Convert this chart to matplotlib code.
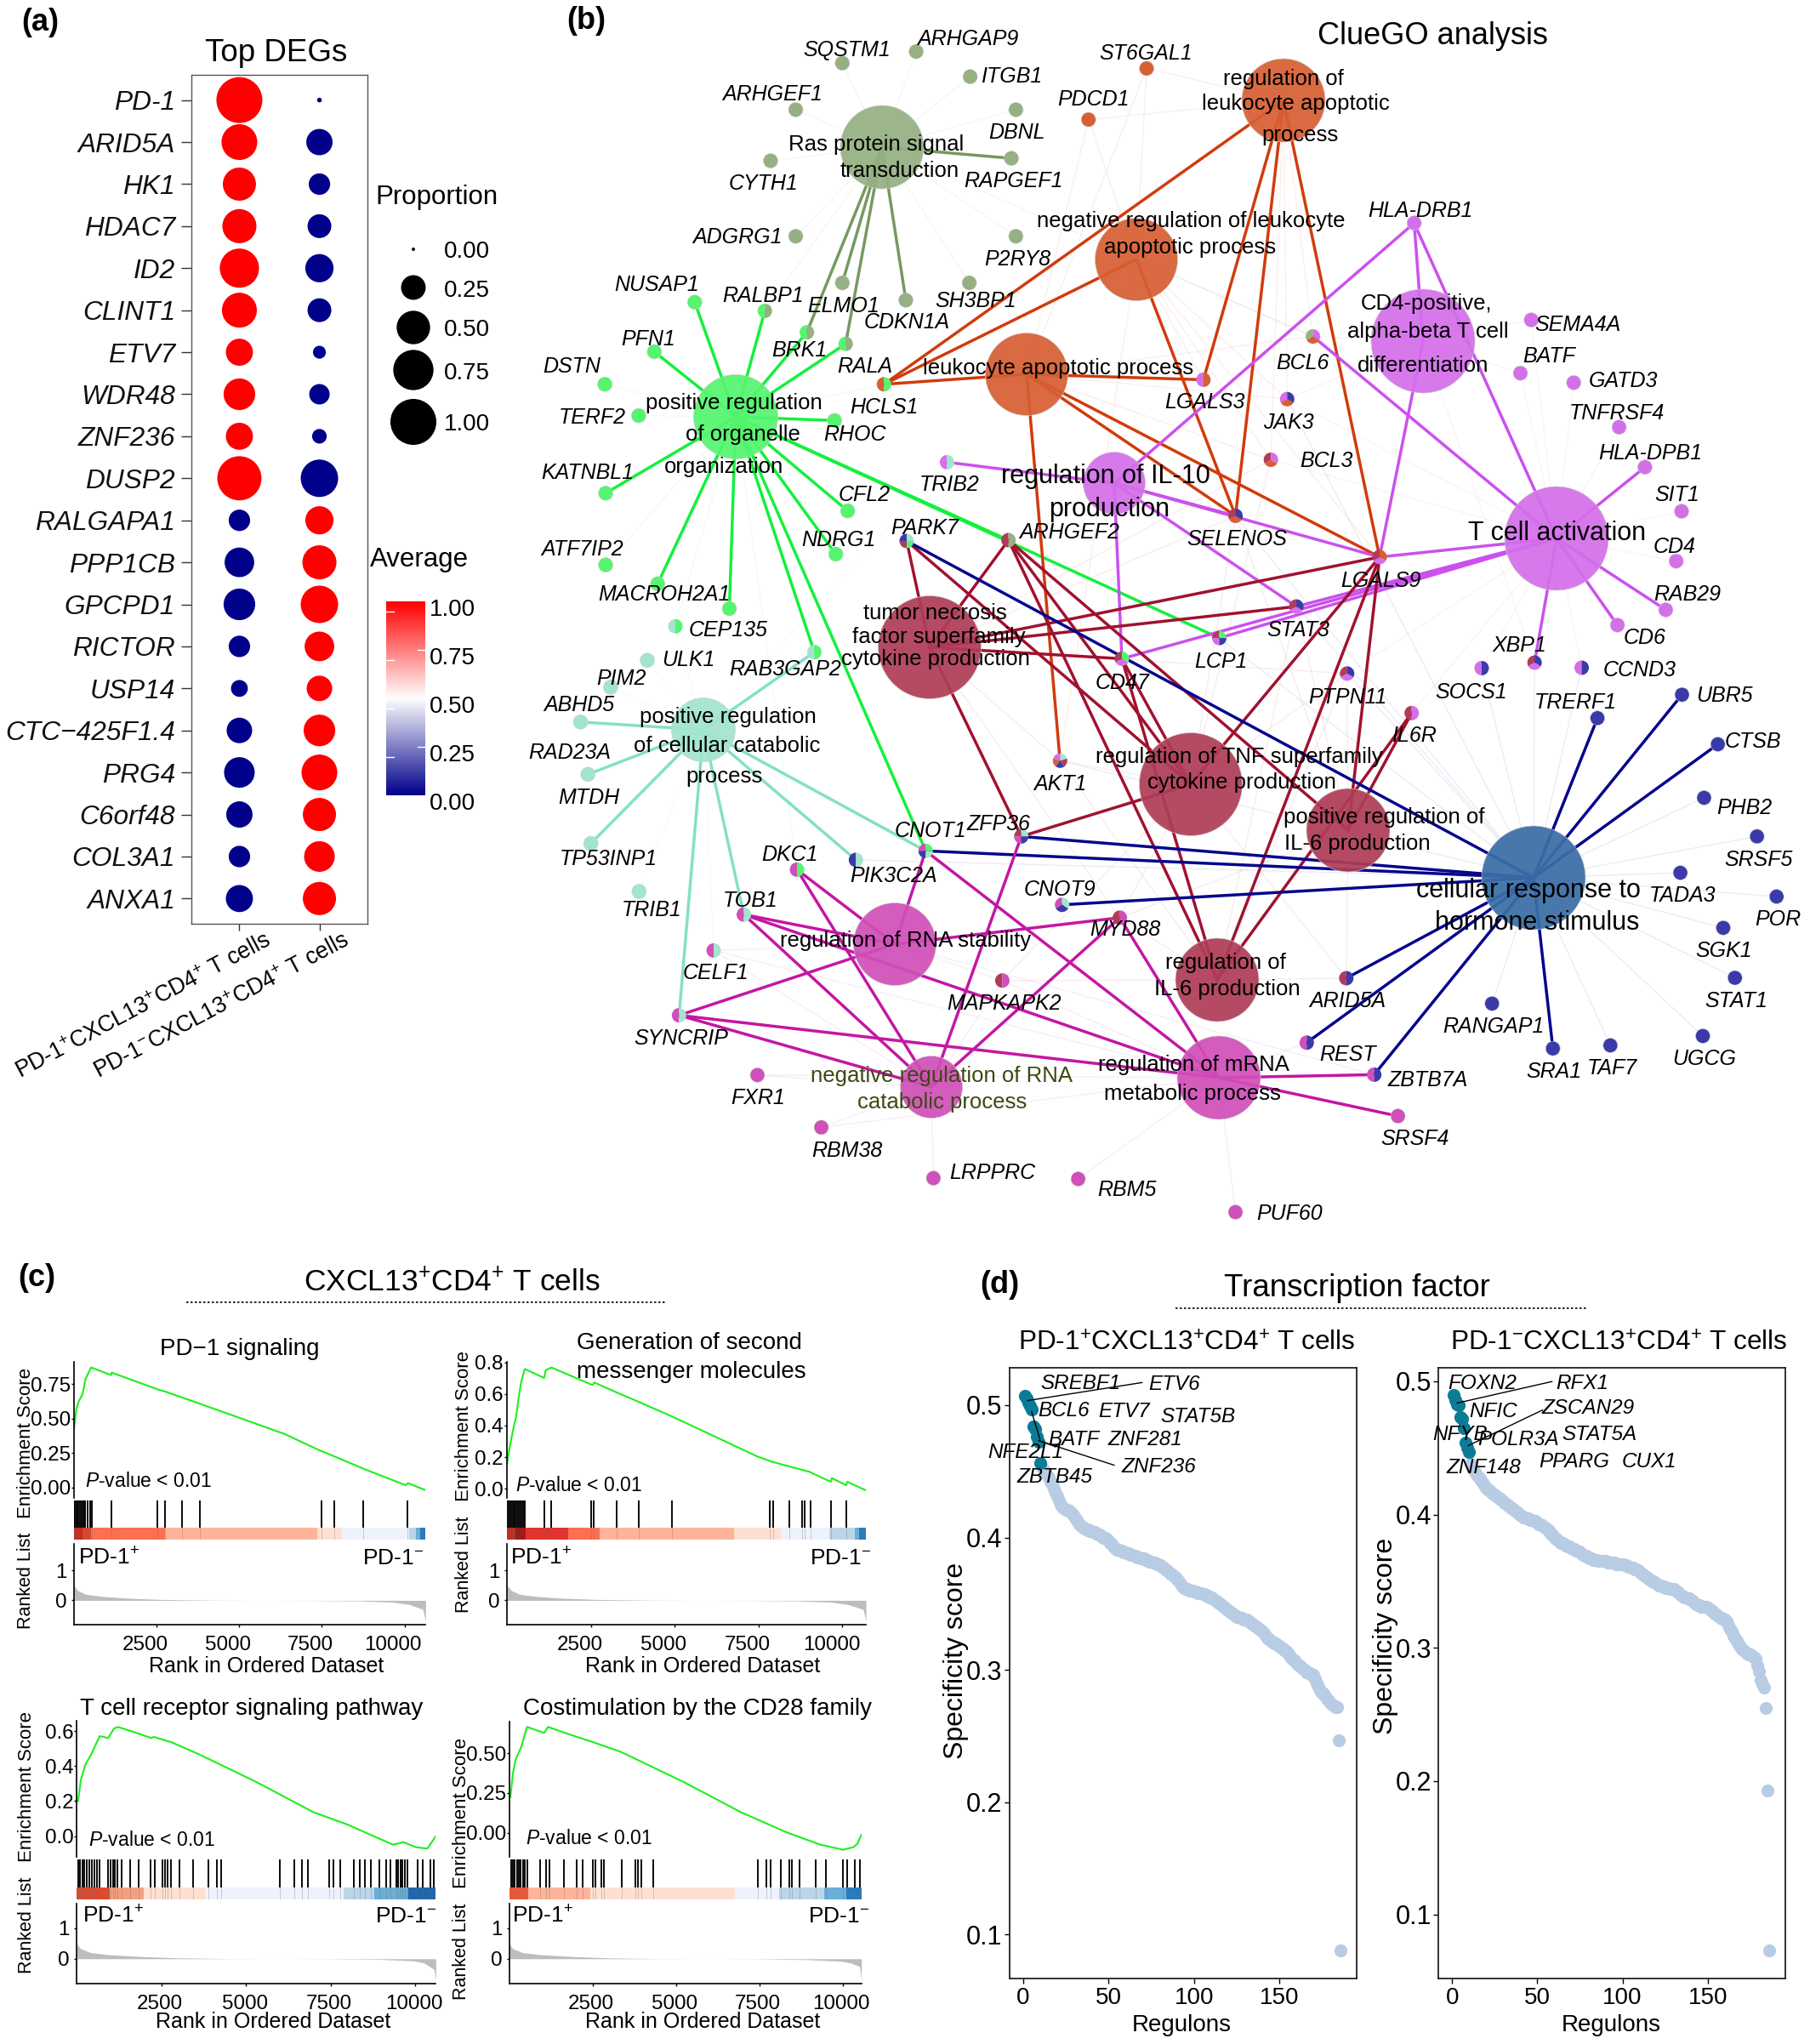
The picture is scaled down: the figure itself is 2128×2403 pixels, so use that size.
import numpy as np
import matplotlib
matplotlib.use('Agg')
import matplotlib.pyplot as plt
from matplotlib.colors import LinearSegmentedColormap
from matplotlib.patches import Circle, Wedge
from matplotlib.transforms import ScaledTranslation

plt.rcParams['font.family'] = ['Liberation Sans', 'DejaVu Sans']
plt.rcParams['mathtext.fontset'] = 'custom'
plt.rcParams['mathtext.rm'] = 'Liberation Sans'
plt.rcParams['mathtext.it'] = 'Liberation Sans:italic'
plt.rcParams['mathtext.bf'] = 'Liberation Sans:bold'
plt.rcParams['mathtext.default'] = 'regular'

W, H = 2128, 2403

# ---------- panel a data ----------
DEG_GENES = ['PD-1', 'ARID5A', 'HK1', 'HDAC7', 'ID2', 'CLINT1', 'ETV7', 'WDR48', 'ZNF236', 'DUSP2',
             'RALGAPA1', 'PPP1CB', 'GPCPD1', 'RICTOR', 'USP14', 'CTC\u2212425F1.4', 'PRG4', 'C6orf48', 'COL3A1', 'ANXA1']
PROP_POS = [1.00, .58, .49, .52, .71, .55, .31, .44, .31, .92, .18, .38, .44, .18, .10, .27, .41, .29, .18, .31]
PROP_NEG = [.001, .29, .18, .23, .34, .23, .05, .16, .07, .64, .34, .52, .64, .38, .27, .44, .58, .49, .41, .49]
AVG_POS = [1.0] * 10 + [0.0] * 10
AVG_NEG = [0.0] * 10 + [1.0] * 10
CELL_LABELS = ['PD-1$^{+}$CXCL13$^{+}$CD4$^{+}$ T cells', 'PD-1$^{-}$CXCL13$^{+}$CD4$^{+}$ T cells']
LEGEND_PROPS = [0.0, .25, .50, .75, 1.0]

# ---------- panel b data ----------
TERM_COL = {'R': '#95B082', 'O': '#55F56F', 'A': '#D65F33', 'I': '#D46FEA', 'T': '#AF3D57',
            'B': '#3A6EA5', 'C': '#A2E5CF', 'M': '#D04FB8'}
GENE_COL = dict(TERM_COL, B='#3A3AAA')
EDGE_COL = {'R': '#76995F', 'O': '#14F03C', 'A': '#D13B0C', 'I': '#CB50EE', 'T': '#A0122F',
            'B': '#05058C', 'C': '#84E0C4', 'M': '#C416A4'}
FRAMES = {2: (620, 0, 2.063, 2.063), 3: (1360, 0, 2.042, 2.063), 4: (620, 740, 2.063, 2.178),
          5: (1360, 740, 2.042, 2.178)}
# key: family, x, y, diameter (px)
TERMS = {
    'ras': ('R', 1037, 173, 98), 'org': ('O', 865, 490, 99), 'leu': ('A', 1207, 440, 97),
    'neg': ('A', 1336, 305, 97), 'reg': ('A', 1509, 118, 98), 'il10': ('I', 1310, 568, 73),
    'cd4': ('I', 1673, 401, 122), 'tca': ('I', 1830, 633, 122), 'tnfp': ('T', 1093, 761, 121),
    'rtnf': ('T', 1400, 922, 121), 'pil6': ('T', 1585, 976, 98), 'ril6': ('T', 1431, 1152, 98),
    'res': ('B', 1803, 1032, 122), 'cat': ('C', 827, 858, 75), 'rna': ('M', 1052, 1110, 97),
    'nrn': ('M', 1095, 1278, 73), 'mrn': ('M', 1433, 1267, 98),
}
# name, frame, node x, node y, label x, label y, families
GENES = [
    ('SQSTM1', 2, 764, 153, 775, 117, 'R'), ('ARHGAP9', 2, 943, 125, 1068, 90, 'R'),
    ('ITGB1', 2, 1074, 186, 1175, 181, 'R'), ('ARHGEF1', 2, 651, 266, 595, 225, 'R'),
    ('DBNL', 2, 1185, 266, 1187, 317, 'R'), ('RAPGEF1', 2, 1174, 384, 1178, 436, 'R'),
    ('CYTH1', 2, 590, 390, 572, 442, 'R'), ('ADGRG1', 2, 651, 573, 510, 571, 'R'),
    ('P2RY8', 2, 1185, 573, 1188, 626, 'R'), ('SH3BP1', 2, 1072, 686, 1087, 726, 'R'),
    ('ELMO1', 2, 764, 686, 766, 738, 'R'), ('CDKN1A', 2, 918, 728, 920, 778, 'R'),
    ('NUSAP1', 2, 406, 733, 314, 686, 'O'), ('RALBP1', 2, 576, 754, 572, 714, 'OR'),
    ('PFN1', 2, 308, 853, 294, 820, 'O'), ('BRK1', 2, 678, 806, 660, 845, 'OR'),
    ('RALA', 2, 772, 834, 818, 885, 'OR'), ('DSTN', 2, 188, 932, 108, 886, 'O'),
    ('TERF2', 2, 270, 1008, 158, 1008, 'O'), ('HCLS1', 2, 865, 932, 866, 985, 'AO'),
    ('RHOC', 2, 745, 1020, 794, 1051, 'O'), ('KATNBL1', 2, 190, 1196, 146, 1142, 'O'),
    ('CFL2', 2, 777, 1239, 818, 1196, 'O'), ('NDRG1', 2, 748, 1344, 755, 1305, 'O'),
    ('ATF7IP2', 2, 190, 1370, 134, 1328, 'O'), ('MACROH2A1', 2, 316, 1416, 332, 1437, 'O'),
    ('', 2, 490, 1476, 0, 0, 'O'), ('CEP135', 2, 359, 1519, 488, 1524, 'CO'),
    ('RAB3GAP2', 4, 696, 58, 625, 97, 'CO'), ('ULK1', 4, 291, 79, 390, 75, 'C'),
    ('PIM2', 4, 202, 148, 228, 122, 'C'), ('ABHD5', 4, 129, 237, 125, 189, 'C'),
    ('MTDH', 4, 147, 371, 150, 426, 'C'), ('TP53INP1', 4, 154, 548, 196, 584, 'C'),
    ('TRIB1', 4, 271, 671, 302, 714, 'C'), ('CNOT1', 4, 966, 567, 978, 512, 'MBCO'),
    ('ZFP36', 4, 1198, 530, 1143, 495, 'TMBC'), ('DKC1', 4, 654, 615, 636, 572, 'MO'),
    ('PIK3C2A', 4, 797, 590, 888, 627, 'BC'), ('TOB1', 4, 525, 730, 540, 690, 'MC'),
    ('CELF1', 4, 452, 822, 456, 876, 'MC'), ('SYNCRIP', 4, 368, 988, 373, 1043, 'MC'),
    ('CNOT9', 4, 1297, 705, 1292, 663, 'MBC'), ('MYD88', 4, 1437, 738, 1450, 764, 'TM'),
    ('MAPKAPK2', 4, 1152, 899, 1157, 954, 'TM'), ('AKT1', 4, 1292, 336, 1293, 392, 'IABTC'),
    ('FXR1', 4, 558, 1141, 560, 1196, 'M'), ('RBM38', 4, 713, 1275, 775, 1330, 'M'),
    ('LRPPRC', 4, 985, 1405, 1128, 1387, 'M'), ('RBM5', 4, 1336, 1407, 1455, 1432, 'M'),
    ('PUF60', 5, 189, 1492, 318, 1491, 'M'), ('SRSF4', 5, 579, 1246, 620, 1300, 'M'),
    ('ZBTB7A', 5, 522, 1140, 650, 1150, 'MB'), ('REST', 5, 360, 1058, 458, 1085, 'MB'),
    ('ARID5A', 5, 455, 893, 458, 948, 'TB'), ('RANGAP1', 5, 805, 958, 808, 1013, 'B'),
    ('SRA1', 5, 951, 1073, 953, 1128, 'B'), ('TAF7', 5, 1089, 1065, 1094, 1120, 'B'),
    ('UGCG', 5, 1311, 1041, 1314, 1096, 'B'), ('STAT1', 5, 1388, 892, 1392, 947, 'B'),
    ('SGK1', 5, 1360, 764, 1362, 819, 'B'), ('POR', 5, 1488, 684, 1491, 739, 'B'),
    ('TADA3', 5, 1257, 623, 1262, 678, 'B'), ('SRSF5', 5, 1441, 530, 1445, 585, 'B'),
    ('PHB2', 5, 1314, 431, 1411, 453, 'B'), ('CTSB', 5, 1347, 294, 1431, 284, 'B'),
    ('UBR5', 5, 1261, 167, 1363, 165, 'B'), ('TRERF1', 5, 1058, 227, 1005, 183, 'B'),
    ('CCND3', 5, 1020, 98, 1158, 100, 'IB'), ('XBP1', 5, 907, 85, 871, 37, 'TIB'),
    ('SOCS1', 5, 780, 99, 754, 157, 'IB'), ('IL6R', 5, 612, 214, 617, 268, 'TI'),
    ('PTPN11', 5, 457, 113, 459, 170, 'TIB'), ('LCP1', 5, 150, 22, 153, 78, 'TIBO'),
    ('STAT3', 3, 335, 1471, 339, 1525, 'TIB'), ('LGALS9', 3, 535, 1351, 538, 1404, 'TIA'),
    ('SELENOS', 3, 189, 1251, 193, 1303, 'TAB'), ('LGALS3', 3, 112, 921, 115, 972, 'IA'),
    ('BCL6', 3, 375, 816, 350, 876, 'RAI'), ('JAK3', 3, 313, 968, 316, 1022, 'IAB'),
    ('BCL3', 3, 274, 1115, 408, 1115, 'TAI'), ('HLA-DRB1', 3, 618, 541, 632, 507, 'I'),
    ('SEMA4A', 3, 899, 776, 1010, 784, 'I'), ('BATF', 3, 873, 905, 942, 860, 'I'),
    ('GATD3', 3, 1001, 928, 1120, 920, 'I'), ('TNFRSF4', 3, 1110, 1036, 1105, 998, 'I'),
    ('HLA-DPB1', 3, 1172, 1133, 1184, 1095, 'I'), ('SIT1', 3, 1260, 1240, 1250, 1197, 'I'),
    ('CD4', 3, 1247, 1361, 1243, 1322, 'I'), ('RAB29', 3, 1222, 1479, 1273, 1437, 'I'),
    ('CD6', 3, 1106, 1516, 1171, 1544, 'I'), ('PARK7', 2, 920, 1312, 964, 1277, 'BTOC'),
    ('ARHGEF2', 2, 1167, 1310, 1314, 1287, 'TR'), ('TRIB2', 2, 1018, 1121, 1024, 1172, 'IC'),
    ('PDCD1', 2, 1361, 290, 1372, 238, 'A'), ('ST6GAL1', 2, 1502, 166, 1500, 125, 'A'),
    ('CD47', 4, 1442, 75, 1444, 132, 'TIO'),
]
LABEL_ONLY = [('RAD23A', 4, 103, 311)]
STRONG = {
    'ras': ['RAPGEF1', 'ELMO1', 'CDKN1A', 'BRK1', 'RALA'],
    'org': ['NUSAP1', 'RALBP1', 'PFN1', 'BRK1', 'RALA', 'RHOC', 'KATNBL1', 'CFL2', 'NDRG1', 'MACROH2A1', '',
            'RAB3GAP2', 'CNOT1', 'ARHGEF2', 'LCP1'],
    'leu': ['HCLS1', 'LGALS3', 'SELENOS', 'LGALS9', 'AKT1'],
    'neg': ['HCLS1', 'SELENOS'],
    'reg': ['HCLS1', 'LGALS3', 'SELENOS', 'LGALS9'],
    'il10': ['TRIB2', 'SELENOS', 'LGALS9', 'STAT3', 'CD47', 'HLA-DRB1'],
    'cd4': ['HLA-DRB1', 'LGALS9'],
    'tca': ['HLA-DRB1', 'BCL6', 'LGALS9', 'STAT3', 'LCP1', 'CD47', 'XBP1', 'HLA-DPB1', 'RAB29', 'CD6'],
    'tnfp': ['PARK7', 'ARHGEF2', 'LGALS9', 'STAT3', 'CD47', 'ZFP36'],
    'rtnf': ['PARK7', 'ARHGEF2', 'LGALS9', 'CD47', 'ZFP36'],
    'pil6': ['ARHGEF2', 'LGALS9', 'IL6R'],
    'ril6': ['ARHGEF2', 'CD47', 'LGALS9', 'IL6R'],
    'res': ['PARK7', 'CNOT1', 'ZFP36', 'CNOT9', 'ARID5A', 'REST', 'ZBTB7A', 'SRA1', 'TRERF1', 'UBR5', 'CTSB'],
    'cat': ['ABHD5', 'RAB3GAP2', 'MTDH', 'TP53INP1', 'SYNCRIP', 'TOB1', 'PIK3C2A', 'CNOT1'],
    'rna': ['DKC1', 'TOB1', 'CNOT1', 'MYD88', 'SYNCRIP'],
    'nrn': ['DKC1', 'TOB1', 'SYNCRIP', 'ZFP36', 'MYD88'],
    'mrn': ['TOB1', 'CNOT1', 'SYNCRIP', 'MYD88', 'ZBTB7A', 'SRSF4'],
}
FAINT = {
    'ras': ['SQSTM1', 'ARHGAP9', 'ITGB1', 'ARHGEF1', 'DBNL', 'CYTH1', 'ADGRG1', 'P2RY8', 'SH3BP1', 'RALBP1', 'BCL6'],
    'org': ['DSTN', 'TERF2', 'HCLS1', 'ATF7IP2', 'CEP135', 'DKC1'],
    'reg': ['PDCD1', 'ST6GAL1', 'BCL6', 'JAK3', 'BCL3'],
    'neg': ['PDCD1', 'ST6GAL1', 'LGALS3', 'LGALS9', 'BCL6', 'JAK3', 'BCL3', 'AKT1'],
    'leu': ['ST6GAL1', 'BCL6', 'JAK3', 'BCL3', 'PDCD1'],
    'cat': ['ULK1', 'PIM2', 'TRIB1', 'CELF1', 'TRIB2', 'CEP135'],
    'nrn': ['FXR1', 'RBM38', 'LRPPRC', 'CELF1', 'MAPKAPK2'],
    'mrn': ['RBM38', 'RBM5', 'PUF60', 'REST', 'CELF1', 'FXR1', 'MAPKAPK2'],
    'rna': ['CELF1', 'MAPKAPK2', 'ZBTB7A'],
    'res': ['RANGAP1', 'TAF7', 'UGCG', 'STAT1', 'SGK1', 'POR', 'TADA3', 'SRSF5', 'PHB2', 'SOCS1', 'XBP1', 'CCND3',
            'AKT1', 'STAT3', 'SELENOS', 'LCP1', 'PTPN11', 'PIK3C2A', 'JAK3'],
    'tca': ['SEMA4A', 'BATF', 'GATD3', 'TNFRSF4', 'SIT1', 'CD4', 'SOCS1', 'CCND3', 'JAK3', 'BCL3', 'PTPN11', 'IL6R'],
    'cd4': ['BCL6', 'SEMA4A', 'BATF', 'JAK3', 'XBP1'],
    'tnfp': ['BCL3', 'PTPN11', 'AKT1', 'MYD88', 'SELENOS'],
    'rtnf': ['PTPN11', 'AKT1', 'MYD88', 'MAPKAPK2', 'ARID5A', 'SELENOS', 'BCL3'],
    'ril6': ['MAPKAPK2', 'MYD88', 'ARID5A', 'STAT3', 'PTPN11', 'AKT1'],
    'pil6': ['ARID5A', 'PTPN11', 'STAT3', 'MYD88', 'SELENOS'],
}
# term text: frame (0 = plain pixels), x, y, text, size, colour
TERM_TEXT = [
    (2, 847, 347, 'Ras protein signal', 18.5, 'k'), (2, 903, 411, 'transduction', 18.5, 'k'),
    (2, 502, 974, 'positive regulation', 18.5, 'k'), (2, 522, 1051, 'of organelle', 18.5, 'k'),
    (2, 476, 1128, 'organization', 18.5, 'k'),
    (0, 1244, 431, 'leukocyte apoptotic process', 18.5, 'k'),
    (0, 1400, 258, 'negative regulation of leukocyte', 18.5, 'k'), (0, 1399, 289, 'apoptotic process', 18.5, 'k'),
    (3, 305, 187, 'regulation of', 18.5, 'k'), (3, 333, 247, 'leukocyte apoptotic', 18.5, 'k'),
    (3, 343, 324, 'process', 18.5, 'k'),
    (0, 1300, 558, 'regulation of IL-10', 22, 'k'), (0, 1304, 597, 'production', 22, 'k'),
    (3, 648, 732, 'CD4-positive,', 18.5, 'k'), (3, 651, 800, 'alpha-beta T cell', 18.5, 'k'),
    (3, 640, 882, 'differentiation', 18.5, 'k'), (3, 960, 1290, 'T cell activation', 22, 'k'),
    (2, 988, 1484, 'tumor necrosis', 18.5, 'k'), (2, 998, 1542, 'factor superfamily', 18.5, 'k'),
    (4, 990, 72, 'cytokine production', 18.5, 'k'),
    (0, 1457, 888, 'regulation of TNF superfamily', 18.5, 'k'), (0, 1460, 918, 'cytokine production', 18.5, 'k'),
    (5, 546, 476, 'positive regulation of', 18.5, 'k'), (5, 481, 545, 'IL-6 production', 18.5, 'k'),
    (5, 893, 665, 'cellular response to', 22, 'k'), (5, 913, 747, 'hormone stimulus', 22, 'k'),
    (5, 165, 850, 'regulation of', 18.5, 'k'), (5, 170, 916, 'IL-6 production', 18.5, 'k'),
    (0, 1403, 1250, 'regulation of mRNA', 18.5, 'k'), (0, 1402, 1284, 'metabolic process', 18.5, 'k'),
    (4, 1005, 1139, 'negative regulation of RNA', 18.5, '#3A4A10'), (4, 1007, 1207, 'catabolic process', 18.5, '#3A4A10'),
    (4, 917, 793, 'regulation of RNA stability', 18.5, 'k'),
    (4, 486, 219, 'positive regulation', 18.5, 'k'), (4, 484, 293, 'of cellular catabolic', 18.5, 'k'),
    (4, 477, 372, 'process', 18.5, 'k'),
]

# ---------- panel c data ----------
GSEA_TITLES = [['PD\u22121 signaling'], ['Generation of second', 'messenger molecules'],
               ['T cell receptor signaling pathway'], ['Costimulation by the CD28 family']]
ES_RANK_1 = [0, 69, 138, 258, 345, 517, 1121, 1138, 2586, 2758, 3276, 3793, 6379, 7414, 7931, 8793, 10034, 10103, 10638]
ES_VAL_1 = [.424, .569, .623, .677, .786, .87, .815, .833, .707, .696, .652, .609, .388, .272, .221, .134, .018, .033, -.018]
ES_RANK_2 = [0, 68, 170, 272, 340, 425, 527, 1106, 1157, 1327, 2551, 2602, 3316, 3912, 4932, 7483, 7908, 8844, 9014, 9660, 9694, 10119, 10153, 10710]
ES_VAL_2 = [.156, .251, .362, .457, .568, .679, .759, .702, .752, .768, .657, .673, .606, .552, .457, .203, .171, .117, .108, .044, .067, .022, .044, -.01]
ES_RANK_3 = [34, 118, 253, 421, 673, 926, 1094, 1212, 1768, 2189, 2273, 2778, 3620, 5303, 6986, 7996, 9343, 9646, 10017, 10354, 10488, 10606]
ES_VAL_3 = [.2, .323, .409, .466, .571, .56, .614, .623, .589, .56, .566, .537, .466, .309, .137, .066, -.049, -.034, -.063, -.071, -.034, 0]
ES_RANK_4 = [17, 86, 171, 342, 513, 1026, 1145, 1795, 2478, 3332, 5212, 6921, 8288, 9313, 9997, 10305, 10424, 10545]
ES_VAL_4 = [.225, .367, .462, .541, .668, .63, .668, .62, .573, .51, .32, .13, .003, -.076, -.108, -.092, -.07, -.013]
RUG_1 = [0, 35, 75, 105, 155, 195, 245, 295, 345, 415, 485, 535, 1121, 2517, 2741, 3258, 3810, 7483, 7879, 8758, 10086]
RUG_2 = [7, 57, 97, 147, 197, 237, 277, 327, 377, 427, 477, 537, 1106, 1327, 2517, 2585, 3265, 3929, 4932, 7840, 7942, 8418, 8810, 8878, 9065, 9660, 10136]
RUG_3 = [38, 88, 158, 228, 298, 368, 438, 518, 598, 658, 918, 988, 1058, 1128, 1198, 1328, 1568, 1818, 2188, 2308, 2528, 2608, 2688, 2778, 3038, 3438, 3888, 4128, 4258, 5998, 6418, 6648, 6818, 7458, 7578, 7778, 8188, 8358, 8508, 8688, 8928, 9148, 9268, 9438, 9498, 9558, 9628, 9698, 9768, 10068, 10218, 10438, 10558]
RUG_4 = [32, 92, 152, 212, 272, 332, 392, 452, 512, 906, 1077, 1197, 1624, 2000, 2171, 2478, 2564, 2735, 2820, 3367, 3760, 3846, 3932, 4307, 7435, 7691, 7810, 8118, 8374, 8460, 8682, 9178, 9485, 9997, 10117, 10340, 10510]
STRIP_EDGE_1 = [0, 258, 517, 2758, 7362, 8103, 10138, 10345, 10483, 10638]
STRIP_COL_1 = ['#C8281C', '#E8402E', '#FB7050', '#FDB49A', '#FEE0D2', '#EEF2FC', '#BCD5E8', '#6BAED6', '#2B7BBA']
STRIP_EDGE_2 = [0, 255, 544, 1836, 2754, 6766, 8160, 9605, 10370, 10506, 10710]
STRIP_COL_2 = ['#C8281C', '#A51010', '#E0352F', '#FB7050', '#FDB49A', '#FEE0D2', '#EEF2FC', '#BCD5E8', '#6BAED6', '#2B7BBA']
STRIP_EDGE_3 = [0, 976, 1970, 3788, 7878, 8788, 9798, 10606]
STRIP_COL_3 = ['#E04A30', '#F4A080', '#FEE0D2', '#EEF2FC', '#BCD5E8', '#6BAED6', '#2166AC']
STRIP_EDGE_4 = [0, 547, 2410, 6752, 8067, 9434, 10084, 10545]
STRIP_COL_4 = ['#EE5A3C', '#FDB49A', '#FEE0D2', '#EEF2FC', '#BCD5E8', '#6BAED6', '#2B7BBA']
RANK_X_1 = [0, 105, 355, 855, 1655, 2655, 4355, 7155, 8655, 9655, 10155, 10555, 10638]
RANK_X_2 = [0, 127, 377, 877, 1677, 2677, 4477, 7277, 8677, 9677, 10177, 10627, 10710]
RANK_X_3 = [0, 108, 408, 958, 1958, 2958, 4458, 7458, 8958, 9958, 10258, 10558, 10606]
RANK_X_4 = [0, 82, 382, 932, 1932, 2932, 4332, 7432, 8932, 9932, 10232, 10492, 10545]
RANK_V_1 = [.50, .33, .20, .13, .07, .03, .005, -.005, -.02, -.06, -.14, -.30, -.70]
RANK_V_2 = [.50, .33, .20, .13, .07, .03, .005, -.005, -.02, -.06, -.14, -.30, -.70]
RANK_V_3 = [.48, .33, .20, .13, .07, .03, .005, -.005, -.02, -.07, -.14, -.35, -.72]
RANK_V_4 = [.48, .33, .20, .13, .07, .03, .005, -.005, -.03, -.08, -.14, -.25, -.72]
GSEA_XTICKS = [2500, 5000, 7500, 10000]
ES_TICKS = [[0, .25, .5, .75], [0, .2, .4, .6, .8], [0, .2, .4, .6], [0, .25, .5]]

# ---------- panel d data ----------
TF_POS = [.507, .505, .502, .499, .497, .484, .482, .476, .472, .456,
          .453, .451, .449, .447, .445, .442, .440, .437, .434, .431,
          .428, .425, .423, .422, .421, .421, .420, .419, .418, .416,
          .414, .412, .410, .409, .408, .407, .406, .406, .405, .405,
          .404, .404, .403, .402, .402, .401, .400, .400, .399, .398,
          .396, .395, .393, .392, .391, .391, .390, .390, .389, .389,
          .388, .388, .387, .387, .386, .386, .385, .385, .384, .384,
          .384, .383, .383, .382, .382, .381, .381, .380, .380, .379,
          .378, .377, .376, .375, .374, .373, .372, .371, .370, .368,
          .367, .365, .363, .362, .361, .361, .360, .360, .360, .359,
          .359, .358, .358, .358, .357, .357, .356, .356, .355, .355,
          .354, .353, .352, .351, .350, .349, .348, .347, .346, .345,
          .344, .343, .342, .341, .340, .340, .339, .339, .338, .338,
          .338, .337, .336, .335, .334, .333, .332, .331, .330, .329,
          .328, .326, .324, .323, .322, .321, .320, .320, .319, .318,
          .317, .316, .315, .314, .313, .311, .309, .308, .307, .305,
          .304, .303, .302, .301, .300, .298, .298, .297, .297, .296,
          .293, .290, .287, .285, .283, .282, .280, .278, .277, .275,
          .274, .273, .272, .272, .247, .088]
TF_NEG = [.490, .486, .483, .482, .473, .472, .465, .454, .450, .447,
          .438, .435, .433, .431, .429, .428, .426, .424, .422, .420,
          .419, .418, .417, .416, .415, .414, .413, .412, .411, .410,
          .409, .408, .407, .406, .405, .404, .403, .402, .401, .400,
          .399, .398, .398, .397, .397, .396, .396, .395, .395, .394,
          .393, .393, .392, .391, .390, .389, .388, .386, .385, .383,
          .382, .381, .380, .379, .379, .378, .377, .376, .376, .375,
          .374, .374, .373, .372, .372, .371, .370, .369, .369, .368,
          .367, .367, .366, .366, .366, .365, .365, .365, .365, .365,
          .364, .364, .364, .364, .364, .363, .363, .363, .363, .363,
          .362, .362, .361, .361, .360, .360, .359, .359, .358, .357,
          .356, .355, .354, .353, .352, .351, .350, .350, .349, .348,
          .347, .347, .346, .346, .345, .345, .345, .344, .344, .344,
          .343, .342, .341, .340, .339, .338, .338, .337, .337, .336,
          .335, .334, .333, .332, .332, .331, .331, .331, .331, .330,
          .329, .328, .327, .326, .325, .324, .323, .322, .322, .321,
          .320, .317, .314, .312, .309, .307, .305, .303, .301, .299,
          .298, .297, .296, .295, .295, .294, .293, .292, .287, .282,
          .276, .273, .270, .255, .193, .073]
TF_LABELS_POS = [('SREBF1', 260, 245), ('ETV6', 428, 247), ('BCL6', 230, 300), ('ETV7', 338, 301), ('STAT5B', 470, 311),
                 ('BATF', 247, 357), ('ZNF281', 376, 357), ('NFE2L1', 162, 383), ('ZNF236', 400, 412), ('ZBTB45', 213, 433)]
TF_LABELS_NEG = [('FOXN2', 980, 245), ('RFX1', 1160, 245), ('NFIC', 1000, 301), ('ZSCAN29', 1170, 295), ('NFYB', 940, 347),
                 ('POLR3A', 1045, 357), ('STAT5A', 1190, 347), ('PPARG', 1145, 402), ('CUX1', 1280, 402), ('ZNF148', 983, 414)]
TF_SEGS = [((165, 283), (370, 247)), ((172, 305), (187, 360)), ((215, 375), (185, 363)), ((185, 363), (320, 412)),
           ((935, 288), (1105, 245)), ((955, 373), (1088, 302))]

fig = plt.figure(figsize=(W / 100, H / 100), dpi=100, facecolor='white')


def axpx(x0, y0, x1, y1, **kw):
    return fig.add_axes([x0 / W, 1 - y1 / H, (x1 - x0) / W, (y1 - y0) / H], **kw)


def pt(px):
    return px * 0.72


net = fig.add_axes([0, 0, 1, 1], zorder=5)
net.set_xlim(0, W)
net.set_ylim(H, 0)
net.axis('off')
net.patch.set_alpha(0)


def txt(x, y, s, **kw):
    # Liberation text centred by its box sits slightly high compared with the reference
    return net.text(x, y + 2, s, **kw)


def F(frame, x, y):
    if frame == 0:
        return x, y
    ox, oy, kx, ky = FRAMES[frame]
    return ox + x / kx, oy + y / ky


# panel letters and headers
for s, x, y in [('(a)', 47, 24), ('(b)', 689, 23), ('(c)', 43, 1501), ('(d)', 1175, 1508)]:
    txt(x, y, s, fontsize=26, fontweight='bold', ha='center', va='center')

# ---------- panel a ----------
axa = axpx(225, 88, 432, 1086)
axa.set_xlim(0.4, 2.6)
axa.set_ylim(20.6, 0.4)
cmap = LinearSegmentedColormap.from_list('a', ['#00008B', '#FFFFFF', '#FF0000'])
ypos = np.arange(1, 21)
size = lambda p: (pt(4 + 50 * np.sqrt(np.asarray(p)))) ** 2
axa.scatter(np.full(20, 1), ypos, s=size(PROP_POS), c=AVG_POS, cmap=cmap, vmin=0, vmax=1, linewidths=0)
axa.scatter(np.full(20, 2), ypos, s=size(PROP_NEG), c=AVG_NEG, cmap=cmap, vmin=0, vmax=1, linewidths=0)
axa.set_yticks(ypos)
axa.set_yticklabels(DEG_GENES, fontsize=22.8, fontstyle='italic', color='#111111')
axa.set_xticks([1, 2])
axa.set_xticklabels([])
axa.tick_params(axis='y', length=pt(12), width=1, pad=pt(7), color='#333333')
axa.tick_params(axis='x', length=pt(8), width=1, color='#333333')
for sp in axa.spines.values():
    sp.set_linewidth(1)
    sp.set_color('#555555')
txt(325, 61, 'Top DEGs', fontsize=26.5, ha='center', va='center')
for lab, xe in zip(CELL_LABELS, (320, 412)):
    net.text(xe, 1111, lab, fontsize=19.2, rotation=28, ha='right', va='baseline', rotation_mode='anchor')
txt(513, 230, 'Proportion', fontsize=22.5, ha='center', va='center')
txt(493, 656, 'Average', fontsize=22.5, ha='center', va='center')
net.scatter([486] * 5, [293, 338, 385, 435, 496], s=size(LEGEND_PROPS), c='k', linewidths=0)
for p, y in zip(LEGEND_PROPS, [294, 340, 386, 437, 497]):
    txt(522, y, f'{p:.2f}', fontsize=20, ha='left', va='center')
axc = axpx(454, 707, 500, 935)
axc.imshow(np.linspace(1, 0, 256)[:, None], cmap=cmap, aspect='auto', extent=[0, 1, 0, 1], vmin=0, vmax=1)
axc.set_xticks([])
axc.set_yticks([])
for sp in axc.spines.values():
    sp.set_visible(False)
for v in [.197, .447, .697, .947]:
    axc.plot([0, .2], [v, v], color='white', lw=1)
for v in [.25, .75]:
    axc.plot([.8, 1], [v, v], color='white', lw=1)
axc.set_xlim(0, 1)
axc.set_ylim(0, 1)
for v in [0, .25, .5, .75, 1]:
    axc.annotate(f'{v:.2f}', (1, v), xytext=(pt(5), -pt(10)), textcoords='offset points', fontsize=20,
                 ha='left', va='center', annotation_clip=False)

# ---------- panel b ----------
txt(1360 + 663 / 2.042, 83 / 2.063, 'ClueGO analysis', fontsize=26, ha='center', va='center')
gpos = {g[0]: F(g[1], g[2], g[3]) for g in GENES}
for t, names in FAINT.items():
    fam, tx, ty, _ = TERMS[t]
    for n in names:
        gx, gy = gpos[n]
        net.plot([tx, gx], [ty, gy], color=EDGE_COL[fam], lw=1, alpha=.08, zorder=1, solid_capstyle='round')
for t, names in STRONG.items():
    fam, tx, ty, _ = TERMS[t]
    for n in names:
        gx, gy = gpos[n]
        net.plot([tx, gx], [ty, gy], color=EDGE_COL[fam], lw=2.5, zorder=1.5, solid_capstyle='round')
for fam, tx, ty, d in TERMS.values():
    net.add_patch(Circle((tx, ty), d / 2, facecolor=TERM_COL[fam], edgecolor='#CCCCCC', lw=.5, alpha=.93, zorder=2))
for name, fr, nx, ny, lx, ly, fams in GENES:
    x, y = F(fr, nx, ny)
    n = len(fams)
    if n == 1:
        net.add_patch(Circle((x, y), 8.5, facecolor=GENE_COL[fams], edgecolor='#CCCCCC', lw=.4, zorder=3))
    else:
        for i, c in enumerate(fams):
            # axis y is inverted, so wedge angles run clockwise on screen
            a0 = 270 - 360 * (i + 1) / n
            a1 = 270 - 360 * i / n
            net.add_patch(Wedge((x, y), 8.5, a0, a1, facecolor=GENE_COL[c], edgecolor='none', zorder=3))
    if name:
        tx, ty = F(fr, lx, ly)
        txt(tx, ty, name, fontsize=18, fontstyle='italic', ha='center', va='center', zorder=4)
for name, fr, lx, ly in LABEL_ONLY:
    tx, ty = F(fr, lx, ly)
    txt(tx, ty, name, fontsize=18, fontstyle='italic', ha='center', va='center', zorder=4)
for fr, x, y, s, fs, col in TERM_TEXT:
    tx, ty = F(fr, x, y)
    txt(tx, ty, s, fontsize=fs, color=col, ha='center', va='center', zorder=4)

# ---------- panel c ----------
cx = lambda z: z / 1.493
cy = lambda z: 1480 + z / 1.699
txt(cx(793), cy(45), 'CXCL13$^{+}$CD4$^{+}$ T cells', fontsize=25.5, ha='center', va='center')
net.plot([cx(327), cx(1168)], [cy(86), cy(86)], color='k', lw=1.2, ls=(0, (1.5, 1.5)))
GSEA = [
    dict(x=(130, 747), es=(205, 478), rug=(482, 561), rk=(570, 730), xlim=(0, 10638), lsh=-13.4, esl=(-.076, .913), rkl=(-.8, 1.87),
         data=(ES_RANK_1, ES_VAL_1, RUG_1, STRIP_EDGE_1, STRIP_COL_1, RANK_X_1, RANK_V_1),
         elab=(45, 364), rlab=(45, 640), title=[(421, 177)], xlab=(468, 810), pv=(150, 441), pd=((192, 594), (690, 594))),
    dict(x=(890, 1520), es=(205, 478), rug=(482, 561), rk=(570, 730), xlim=(0, 10710), lsh=-12.7, esl=(-.06, .806), rkl=(-.8, 1.87),
         data=(ES_RANK_2, ES_VAL_2, RUG_2, STRIP_EDGE_2, STRIP_COL_2, RANK_X_2, RANK_V_2),
         elab=(815, 331), rlab=(815, 607), title=[(1210, 165), (1213, 223)], xlab=(1234, 810), pv=(905, 449), pd=((950, 594), (1475, 594))),
    dict(x=(135, 765), es=(922, 1195), rug=(1200, 1280), rk=(1288, 1448), xlim=(0, 10606), lsh=-1.7, esl=(-.12, .66), rkl=(-.82, 1.8),
         data=(ES_RANK_3, ES_VAL_3, RUG_3, STRIP_EDGE_3, STRIP_COL_3, RANK_X_3, RANK_V_3),
         elab=(47, 1051), rlab=(47, 1327), title=[(441, 895)], xlab=(479, 1521), pv=(155, 1158), pd=((198, 1310), (712, 1310))),
    dict(x=(895, 1512), es=(925, 1195), rug=(1200, 1280), rk=(1288, 1448), xlim=(0, 10545), lsh=-2.6, esl=(-.155, .699), rkl=(-.82, 1.8),
         data=(ES_RANK_4, ES_VAL_4, RUG_4, STRIP_EDGE_4, STRIP_COL_4, RANK_X_4, RANK_V_4),
         elab=(810, 1103), rlab=(810, 1380), title=[(1225, 895)], xlab=(1233, 1521), pv=(922, 1155), pd=((952, 1310), (1472, 1310))),
]
for i, g in enumerate(GSEA):
    er, ev, rug, se, sc, rx, rv = g['data']
    x0, x1 = cx(g['x'][0]), cx(g['x'][1])
    a1 = axpx(x0, cy(g['es'][0]), x1, cy(g['es'][1]))
    a1.plot(er, ev, color='#1CF01C', lw=1.5)
    a1.set_xlim(*g['xlim'])
    a1.set_ylim(*g['esl'])
    a1.set_xticks([])
    a1.set_yticks(ES_TICKS[i])
    a1.set_yticklabels([f'{v:.2f}' if i in (0, 3) else f'{v:.1f}' for v in ES_TICKS[i]], fontsize=17.4)
    a1.tick_params(axis='y', length=2, width=1, pad=1)
    a1.spines['left'].set_linewidth(1.2)
    for s in ('top', 'right', 'bottom'):
        a1.spines[s].set_visible(False)
    a2 = axpx(x0, cy(g['rug'][0]), x1, cy(g['rug'][1]))
    a2.set_xlim(*g['xlim'])
    a2.set_ylim(0, 1)
    a2.axis('off')
    for j, c in enumerate(sc):
        a2.axvspan(se[j], se[j + 1], ymin=0, ymax=.30, color=c, lw=0)
    a2.vlines(rug, .30, 1, color='k', lw=1.35)
    a2.vlines(rug, 0, .30, color='#666666', lw=.7, alpha=.3)
    a3 = axpx(x0, cy(g['rk'][0]), x1, cy(g['rk'][1]))
    a3.fill_between(rx, 0, rv, color='#BDBDBD', lw=0)
    a3.set_xlim(*g['xlim'])
    a3.set_ylim(*g['rkl'])
    a3.set_xticks(GSEA_XTICKS)
    a3.set_xticklabels([str(v) for v in GSEA_XTICKS], fontsize=17.4)
    a3.set_yticks([0, 1])
    a3.set_yticklabels(['0', '1'], fontsize=17.4)
    a3.tick_params(axis='x', length=2.2, width=1, pad=pt(10))
    a3.tick_params(axis='y', length=2.2, width=1, pad=4)
    for lb in a3.get_xticklabels():
        lb.set_transform(lb.get_transform() + ScaledTranslation(g['lsh'] / 100, 0, fig.dpi_scale_trans))
    for s in ('top', 'right'):
        a3.spines[s].set_visible(False)
    for s in ('left', 'bottom'):
        a3.spines[s].set_linewidth(1.2)
    txt(cx(g['elab'][0]), cy(g['elab'][1]), 'Enrichment Score', fontsize=16, rotation=90, ha='center', va='center')
    txt(cx(g['rlab'][0]), cy(g['rlab'][1]), 'Ranked List', fontsize=15.5, rotation=90, ha='center', va='center')
    for (tx, ty), s in zip(g['title'], GSEA_TITLES[i]):
        txt(cx(tx), cy(ty), s, fontsize=20, ha='center', va='center')
    txt(cx(g['xlab'][0]), cy(g['xlab'][1]), 'Rank in Ordered Dataset', fontsize=18, ha='center', va='center')
    txt(cx(g['pv'][0]), cy(g['pv'][1]), r'$\mathit{P}$-value < 0.01', fontsize=16.5, ha='left', va='center')
    txt(cx(g['pd'][0][0]), cy(g['pd'][0][1]), 'PD-1$^{+}$', fontsize=19, ha='center', va='center')
    txt(cx(g['pd'][1][0]), cy(g['pd'][1][1]), 'PD-1$^{-}$', fontsize=19, ha='center', va='center')

# ---------- panel d ----------
dx = lambda z: 1100 + z / 1.525
dy = lambda z: 1480 + z / 1.699
txt(dx(756), dy(55), 'Transcription factor', fontsize=26.5, ha='center', va='center')
net.plot([dx(430), dx(1170)], [dy(98), dy(98)], color='k', lw=1.2, ls=(0, (1.5, 1.5)))
txt(dx(451), dy(165), CELL_LABELS[0], fontsize=22.7, ha='center', va='center')
txt(dx(1225), dy(165), CELL_LABELS[1], fontsize=22.7, ha='center', va='center')
panels = [(TF_POS, (132, 755), (-8.2, 195.4), (.067, .528), (36, 800), TF_LABELS_POS),
          (TF_NEG, (902, 1524), (-7.9, 195.8), (.052, .510), (806, 750), TF_LABELS_NEG)]
for vals, (z0, z1), xl, yl, (lx, ly), labs in panels:
    ax = axpx(dx(z0), dy(218), dx(z1), dy(1437))
    r = np.arange(1, len(vals) + 1)
    v = np.array(vals)
    ax.scatter(r[10:], v[10:], s=120, color='#B8CCE4', linewidths=0)
    ax.scatter(r[:10], v[:10], s=120, color='#0B7C96', linewidths=0)
    ax.set_xlim(*xl)
    ax.set_ylim(*yl)
    ax.set_xticks([0, 50, 100, 150])
    ax.set_yticks([.1, .2, .3, .4, .5])
    ax.tick_params(axis='x', labelsize=20, length=4, width=1, pad=3)
    ax.tick_params(axis='y', labelsize=22, length=4, width=1, pad=2)
    for sp in ax.spines.values():
        sp.set_linewidth(1.3)
        sp.set_color('#222222')
    txt(dx(lx), dy(ly), 'Specificity score', fontsize=23, rotation=90, ha='center', va='center')
    txt(dx((z0 + z1) / 2 - 2), dy(1528), 'Regulons', fontsize=20, ha='center', va='center')
    for s, tx, ty in labs:
        txt(dx(tx), dy(ty), s, fontsize=17.5, fontstyle='italic', ha='center', va='center')
for (a, b) in TF_SEGS:
    net.plot([dx(a[0]), dx(b[0])], [dy(a[1]), dy(b[1])], color='k', lw=1)

fig.savefig('out.png', dpi=100, facecolor='white')
